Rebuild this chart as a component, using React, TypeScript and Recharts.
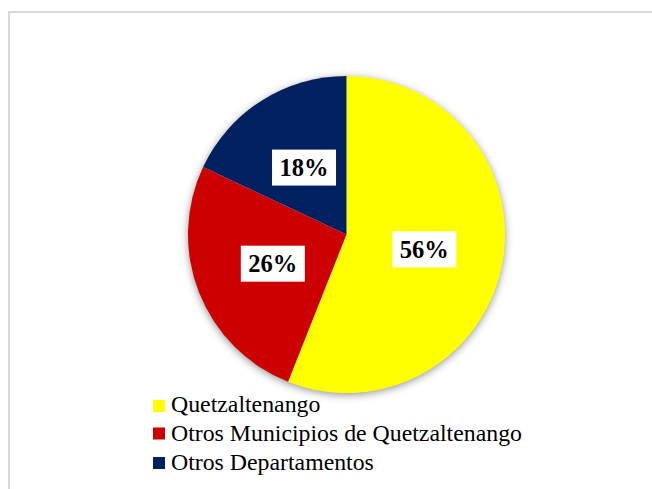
import React from 'react';
import { PieChart, Pie, Cell, Legend } from 'recharts';

const categories = ['Quetzaltenango', 'Otros Municipios de Quetzaltenango', 'Otros Departamentos'];
const values = [56, 26, 18];
const pctLabels = ['56%', '26%', '18%'];
const colors = ['#FFFF00', '#CC0000', '#002060'];

const data = categories.map((name, i) => ({ name, value: values[i], label: pctLabels[i] }));
const shadowData = [{ name: 'shadow', value: 100 }];

const SERIF = "'Liberation Serif', 'Times New Roman', serif";
const RADIAN = Math.PI / 180;

const renderLabel = (props: any) => {
  const { cx, cy, midAngle, outerRadius, index } = props;
  const r = outerRadius * 0.5;
  const x = cx + r * Math.cos(-midAngle * RADIAN);
  const y = cy + r * Math.sin(-midAngle * RADIAN);
  return (
    <g key={`lbl-${index}`}>
      <rect x={x - 32} y={y - 18} width={64} height={36} fill="#FFFFFF" />
      <text
        x={x}
        y={y + 8.5}
        textAnchor="middle"
        style={{ fontFamily: SERIF, fontWeight: 700, fontSize: 24.5 }}
        fill="#000000"
      >
        {pctLabels[index]}
      </text>
    </g>
  );
};

const renderLegend = () => (
  <svg width={420} height={92} style={{ display: 'block' }}>
    {categories.map((c, i) => {
      const sq = [400, 427.5, 457][i] - 390;
      const base = [412.3, 440.8, 470][i] - 390;
      return (
        <g key={c}>
          <rect x={3} y={sq} width={12} height={12} fill={colors[i]} />
          <text x={21} y={base} style={{ fontFamily: SERIF, fontSize: 23.8 }} fill="#000000">
            {c}
          </text>
        </g>
      );
    })}
  </svg>
);

export default function App() {
  return (
    <div
      style={{
        position: 'absolute',
        left: 0,
        top: 0,
        width: 652,
        height: 489,
        overflow: 'hidden',
        background: '#FFFFFF',
      }}
    >
      <div
        style={{
          position: 'absolute',
          left: 8,
          top: 11,
          width: 700,
          height: 600,
          border: '2px solid #D9D9D9',
          boxSizing: 'border-box',
        }}
      />
      <div style={{ position: 'absolute', left: 0, top: 0 }}>
        <PieChart width={652} height={489} margin={{ top: 0, right: 0, bottom: 0, left: 0 }}>
          <Pie
            data={shadowData}
            dataKey="value"
            cx={346.5}
            cy={234.5}
            outerRadius={158}
            startAngle={90}
            endAngle={-270}
            stroke="none"
            label={false}
            labelLine={false}
            isAnimationActive={false}
            legendType="none"
          >
            <Cell fill="#FFFFFF" style={{ filter: 'drop-shadow(0px 2px 4px rgba(0,0,0,0.45))' }} />
          </Pie>
          <Pie
            data={data}
            dataKey="value"
            nameKey="name"
            cx={346.5}
            cy={234.5}
            outerRadius={158.5}
            startAngle={90}
            endAngle={-270}
            stroke="none"
            label={renderLabel}
            labelLine={false}
            isAnimationActive={false}
          >
            {data.map((d, i) => (
              <Cell key={d.name} fill={colors[i]} />
            ))}
          </Pie>
          <Legend
            content={renderLegend}
            layout="horizontal"
            verticalAlign="bottom"
            align="center"
            wrapperStyle={{ position: 'absolute', left: 150, top: 390, width: 420, height: 92, bottom: 'auto' }}
          />
        </PieChart>
      </div>
    </div>
  );
}
